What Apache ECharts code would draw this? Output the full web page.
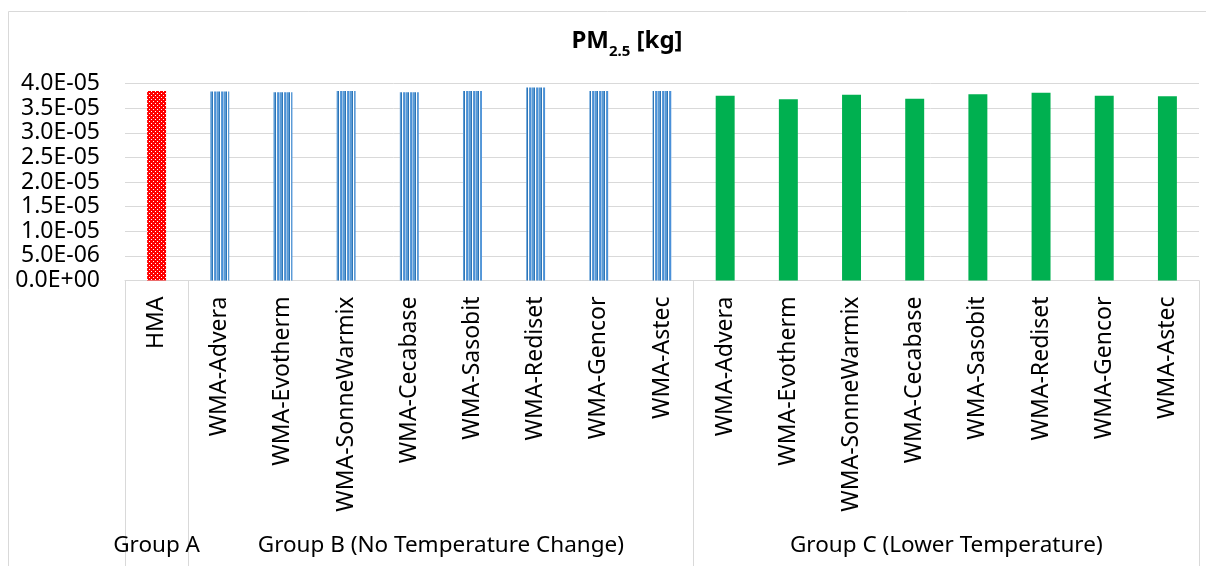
<!DOCTYPE html>
<html>
<head>
<meta charset="utf-8">
<script src="https://cdn.jsdelivr.net/npm/echarts@6/dist/echarts.min.js"></script>
<style>html,body{margin:0;padding:0;background:#fff;}#c{width:1206px;height:566px;}</style>
</head>
<body>
<div id="c"></div>
<script>
// ---- data ----
const categories = [
  'HMA',
  'WMA-Advera','WMA-Evotherm','WMA-SonneWarmix','WMA-Cecabase','WMA-Sasobit','WMA-Rediset','WMA-Gencor','WMA-Astec',
  'WMA-Advera','WMA-Evotherm','WMA-SonneWarmix','WMA-Cecabase','WMA-Sasobit','WMA-Rediset','WMA-Gencor','WMA-Astec'
];
const values = [
  3.85e-5,
  3.84e-5, 3.82e-5, 3.85e-5, 3.82e-5, 3.85e-5, 3.92e-5, 3.85e-5, 3.85e-5,
  3.75e-5, 3.68e-5, 3.77e-5, 3.69e-5, 3.78e-5, 3.81e-5, 3.75e-5, 3.74e-5
];
const groupNames = ['Group A', 'Group B (No Temperature Change)', 'Group C (Lower Temperature)'];
const groupSizes = [1, 8, 8];
const yTicks = [0, 5e-6, 1e-5, 1.5e-5, 2e-5, 2.5e-5, 3e-5, 3.5e-5, 4e-5];
const titleText = { main: 'PM', sub: '2.5', unit: ' [kg]' };

// ---- styles ----
function makePattern(w, h, draw) {
  const c = document.createElement('canvas');
  c.width = w; c.height = h;
  draw(c.getContext('2d'));
  return c;
}
const redPat = makePattern(4, 4, g => {
  g.fillStyle = '#ff0000'; g.fillRect(0, 0, 4, 4);
  g.fillStyle = '#ffffff';
  g.fillRect(1, 1, 1, 1);
  g.fillRect(3, 3, 1, 1);
});
const bluePat = makePattern(7, 4, g => {
  const cols = ['#5b9bd5', '#5b9bd5', '#2e75b6', '#ffffff', '#5b9bd5', '#4a90d9', '#9dc3e6'];
  cols.forEach((col, i) => { g.fillStyle = col; g.fillRect(i, 0, 1, 4); });
});
const groupFill = [
  { image: redPat, repeat: 'repeat' },
  { image: bluePat, repeat: 'repeat' },
  '#00b050'
];

// group index per category and boundaries
const groupOf = [];
const boundaries = [0];
groupSizes.forEach((n, gi) => {
  for (let k = 0; k < n; k++) groupOf.push(gi);
  boundaries.push(boundaries[boundaries.length - 1] + n);
});
const groupCenters = {};
groupSizes.forEach((n, gi) => {
  groupCenters[String(boundaries[gi] + n / 2)] = groupNames[gi];
});

function fmtExp(v) {
  if (v === 0) return '0.0E+00';
  const s = v.toExponential(1);
  const [m, e] = s.split('e');
  const ev = parseInt(e, 10);
  const sign = ev < 0 ? '-' : '+';
  const ab = Math.abs(ev);
  return m + 'E' + sign + (ab < 10 ? '0' + ab : ab);
}

const FONT = 'Noto Sans';
const chart = echarts.init(document.getElementById('c'), null, { renderer: 'canvas' });
chart.setOption({
  animation: false,
  backgroundColor: '#ffffff',
  graphic: [{
    type: 'rect', left: 6, top: 9, silent: true,
    shape: { width: 1400, height: 800 },
    style: { fill: 'none', stroke: '#d9d9d9', lineWidth: 1 }
  }, {
    type: 'text', x: 627, y: 41, silent: true,
    style: {
      text: '{a|' + titleText.main + '}{s|' + titleText.sub + '}{a|' + titleText.unit + '}',
      align: 'center', verticalAlign: 'middle',
      rich: {
        a: { fontFamily: FONT, fontSize: 24, fontWeight: 'bold', fill: '#000', lineHeight: 28 },
        s: { fontFamily: FONT, fontSize: 15, fontWeight: 'bold', fill: '#000', lineHeight: 16, padding: [22, 0, 0, 0] }
      }
    }
  }],
  grid: { left: 125, right: 7, top: 83.5, bottom: 285.5, containLabel: false },
  xAxis: [{
    type: 'category',
    data: categories,
    boundaryGap: true,
    axisLine: { show: true, lineStyle: { color: '#d9d9d9', width: 1 } },
    axisTick: {
      show: true, length: 300, inside: false,
      interval: (i) => boundaries.includes(i),
      lineStyle: { color: '#d9d9d9', width: 1 }
    },
    axisLabel: {
      interval: 0, rotate: 90, margin: 16,
      fontFamily: FONT, fontSize: 23, color: '#000'
    },
    splitLine: { show: false }
  }, {
    type: 'value',
    position: 'bottom',
    min: 0, max: categories.length, interval: 0.5,
    axisLine: { show: false }, axisTick: { show: false }, splitLine: { show: false },
    axisLabel: {
      margin: 254, fontFamily: FONT, fontSize: 22.5, color: '#000',
      showMinLabel: true, showMaxLabel: true,
      formatter: (v) => groupCenters[String(v)] || ''
    }
  }],
  yAxis: {
    type: 'value',
    min: yTicks[0], max: yTicks[yTicks.length - 1], interval: yTicks[1] - yTicks[0],
    axisLine: { show: false }, axisTick: { show: false },
    splitLine: { show: true, lineStyle: { color: '#d9d9d9', width: 1 } },
    axisLabel: { margin: 25, fontFamily: FONT, fontSize: 23, color: '#000', formatter: fmtExp }
  },
  series: [{
    type: 'bar',
    xAxisIndex: 0,
    barWidth: '30%',
    data: values.map((v, i) => ({ value: v, itemStyle: { color: groupFill[groupOf[i]] } }))
  }]
});
</script>
</body>
</html>
